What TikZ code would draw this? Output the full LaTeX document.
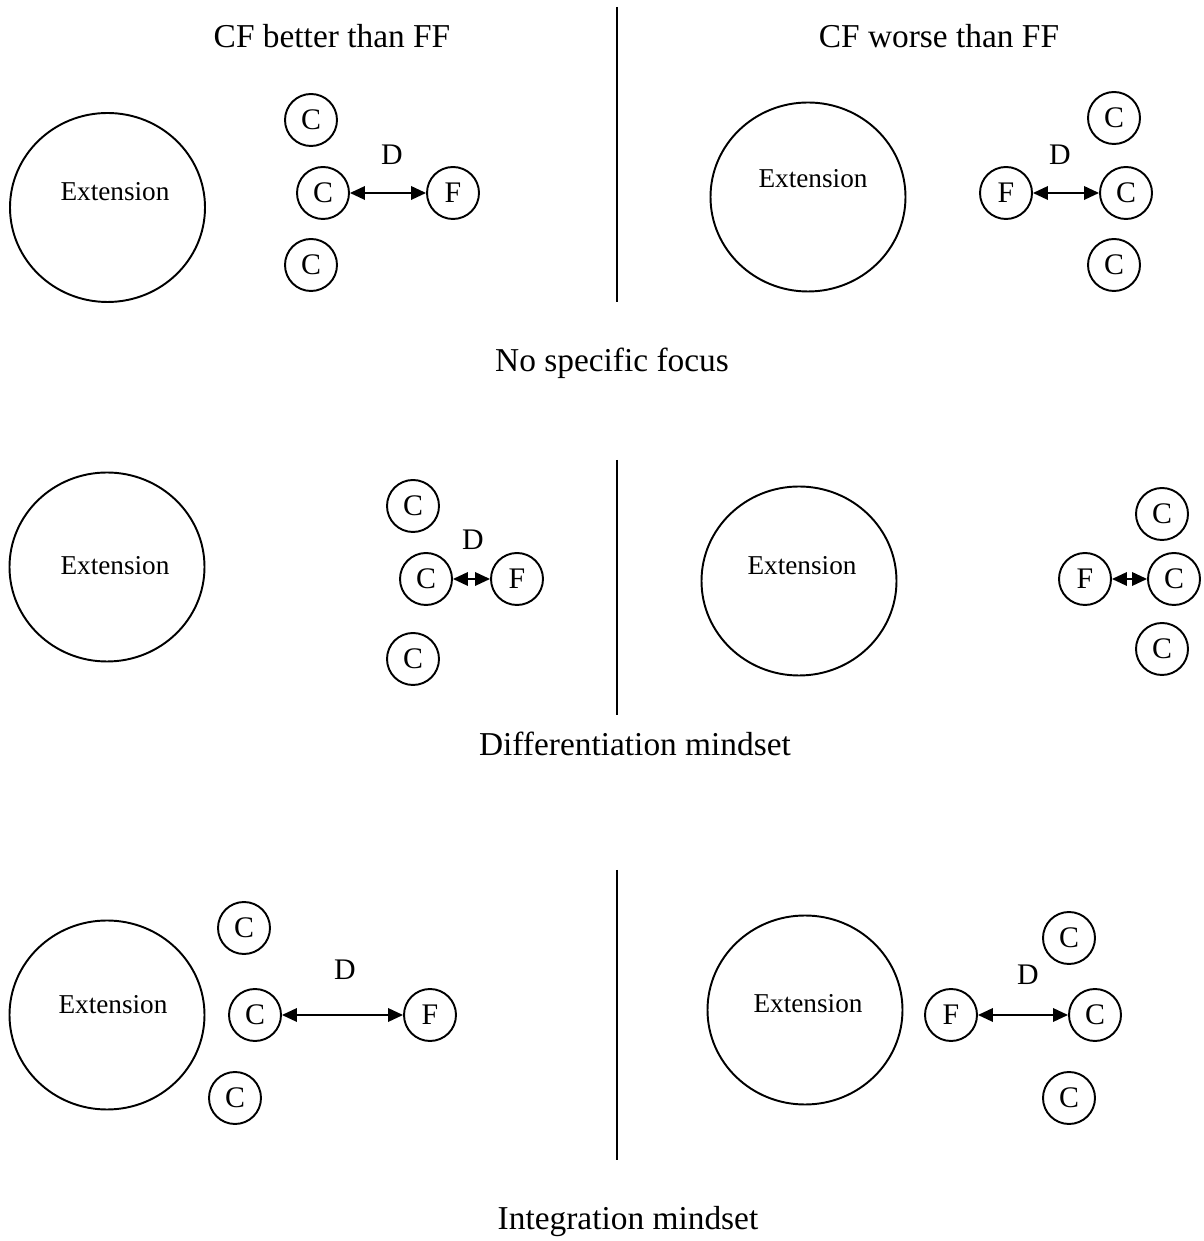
\documentclass[tikz,border=0pt]{standalone}
\usepackage{fontspec}
\setmainfont{Liberation Serif}
\usetikzlibrary{shapes.geometric}
\usetikzlibrary{arrows.meta}
\tikzset{
    bigc/.style = {ellipse, line width=1.1pt, draw=black, minimum width=3.9cm, minimum height=3.78cm, inner sep=0pt},
    smallc/.style = {circle, line width=1.1pt, draw=black, minimum size=1.04cm, inner sep=0pt, font=\fontsize{17}{20}\selectfont},
    exttxt/.style = {inner sep=0pt, font=\fontsize{15.5}{18}\selectfont},
    dtxt/.style = {inner sep=0pt, font=\fontsize{17}{20}\selectfont},
    hd/.style = {inner sep=0pt, font=\fontsize{19}{22}\selectfont},
    dlink/.style = {{Triangle[length=0.3cm,width=0.27cm]}-{Triangle[length=0.3cm,width=0.27cm]}, line width=1.1pt},
    divider/.style = {line width=1.1pt}
}

\begin{document}
\begin{tikzpicture}
\useasboundingbox (0,0) rectangle (24.08,24.82);
% titles
\node[hd] at (6.64, 24.10) (t1) {CF better than FF};
\node[hd] at (18.78, 24.10) (t2) {CF worse than FF};
%
% no specific focus
\node[bigc] at (2.15, 20.67) (e1) {};
\node[exttxt] at (2.30, 20.98) (x1) {Extension};
\node[smallc] at (6.22, 22.42) (c11) {C};
\node[smallc] at (6.46, 20.96) (c12) {C};
\node[smallc] at (6.22, 19.52) (c13) {C};
\node[smallc] at (9.06, 20.96) (f1) {F};
\node[dtxt] at (7.84, 21.72) (d1) {D};
\draw[dlink] (c12) -- (f1);
%
\node[bigc] at (16.16, 20.88) (e2) {};
\node[exttxt] at (16.26, 21.24) (x2) {Extension};
\node[smallc] at (22.28, 22.46) (c21) {C};
\node[smallc] at (22.52, 20.96) (c22) {C};
\node[smallc] at (22.28, 19.52) (c23) {C};
\node[smallc] at (20.12, 20.96) (f2) {F};
\node[dtxt] at (21.20, 21.72) (d2) {D};
\draw[dlink] (f2) -- (c22);
%
\draw[divider] (12.34, 24.68) -- (12.34, 18.78);
\node[hd] at (12.24, 17.56) (s1) {No specific focus};
%
% differentiation mindset
\node[bigc] at (2.14, 13.48) (e3) {};
\node[exttxt] at (2.30, 13.50) (x3) {Extension};
\node[smallc] at (8.26, 14.70) (c31) {C};
\node[smallc] at (8.52, 13.24) (c32) {C};
\node[smallc] at (8.26, 11.64) (c33) {C};
\node[smallc] at (10.34, 13.24) (f3) {F};
\node[dtxt] at (9.46, 14.02) (d3) {D};
\draw[dlink] (c32) -- (f3);
%
\node[bigc] at (15.98, 13.20) (e4) {};
\node[exttxt] at (16.04, 13.50) (x4) {Extension};
\node[smallc] at (23.24, 14.54) (c41) {C};
\node[smallc] at (23.48, 13.24) (c42) {C};
\node[smallc] at (23.24, 11.84) (c43) {C};
\node[smallc] at (21.70, 13.24) (f4) {F};
\draw[dlink] (f4) -- (c42);
%
\draw[divider] (12.34, 15.62) -- (12.34, 10.52);
\node[hd] at (12.70, 9.94) (s2) {Differentiation mindset};
%
% integration mindset
\node[bigc] at (2.14, 4.52) (e5) {};
\node[exttxt] at (2.26, 4.72) (x5) {Extension};
\node[smallc] at (4.88, 6.26) (c51) {C};
\node[smallc] at (5.10, 4.52) (c52) {C};
\node[smallc] at (4.70, 2.86) (c53) {C};
\node[smallc] at (8.60, 4.52) (f5) {F};
\node[dtxt] at (6.90, 5.42) (d5) {D};
\draw[dlink] (c52) -- (f5);
%
\node[bigc] at (16.10, 4.62) (e6) {};
\node[exttxt] at (16.16, 4.74) (x6) {Extension};
\node[smallc] at (21.38, 6.06) (c61) {C};
\node[smallc] at (21.90, 4.52) (c62) {C};
\node[smallc] at (21.38, 2.86) (c63) {C};
\node[smallc] at (19.02, 4.52) (f6) {F};
\node[dtxt] at (20.56, 5.32) (d6) {D};
\draw[dlink] (f6) -- (c62);
%
\draw[divider] (12.34, 7.42) -- (12.34, 1.62);
\node[hd] at (12.56, 0.38) (s3) {Integration mindset};
\end{tikzpicture}
\end{document}
